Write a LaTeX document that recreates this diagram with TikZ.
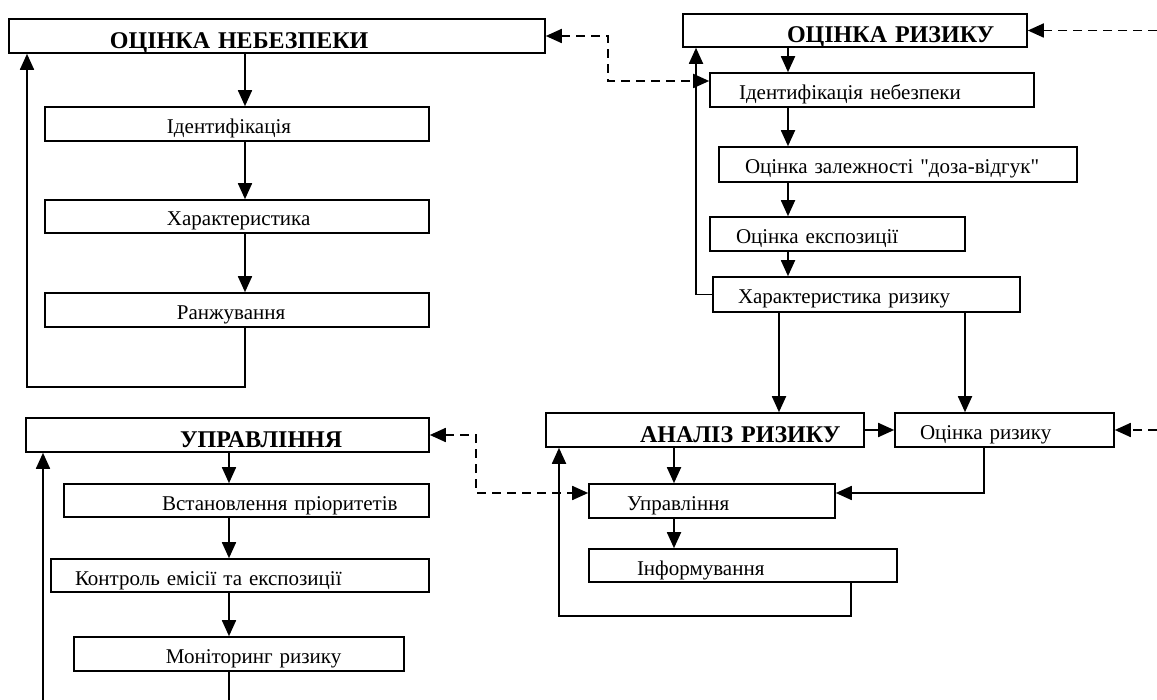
\documentclass[tikz,border=0pt]{standalone}
\usepackage{fontspec}
\setmainfont{Liberation Serif}
\usetikzlibrary{arrows.meta}
\begin{document}
\begin{tikzpicture}[x=1pt,y=1pt,
  box/.style={draw, line width=1.6pt, inner sep=0pt, align=left, text height=20pt, text depth=1pt, font=\fontsize{21}{24}\selectfont},
  head/.style={box, text height=26pt, text depth=1pt, font=\fontsize{24}{28}\selectfont\bfseries},
  tip/.tip={Triangle[length=16pt,width=14pt]},
  arr/.style={line width=1.8pt, -tip},
  plain/.style={line width=1.8pt},
  darr/.style={line width=1.8pt, dash pattern=on 9pt off 6pt, tip-tip},
  sdarr/.style={line width=1.8pt, dash pattern=on 9pt off 6pt, -tip}]
\useasboundingbox (0,0) rectangle (1157,-700);

% left upper column
\node[head, text width=536pt, minimum height=34pt] (B1) at (277,-36) {\hspace*{101pt}ОЦІНКА НЕБЕЗПЕКИ};
\node[box, text width=384pt, minimum height=34pt] (B2) at (237,-124) {\hspace*{122pt}Ідентифікація};
\node[box, text width=384pt, minimum height=33pt] (B3) at (237,-216.5) {\hspace*{122pt}Характеристика};
\node[box, text width=384pt, minimum height=34pt] (B4) at (237,-310) {\hspace*{132pt}Ранжування};

% left lower column
\node[head, text width=403pt, minimum height=34pt] (B5) at (227.5,-435) {\hspace*{154pt}УПРАВЛІННЯ};
\node[box, text width=365pt, minimum height=33pt] (B6) at (246.5,-500.5) {\hspace*{98pt}Встановлення пріоритетів};
\node[box, text width=378pt, minimum height=33pt] (B7) at (240,-575.5) {\hspace*{24pt}Контроль емісії та експозиції};
\node[box, text width=330pt, minimum height=34pt] (B8) at (239,-654) {\hspace*{92pt}Моніторинг ризику};

% right upper column
\node[head, text width=344pt, minimum height=33pt] (R1) at (855,-30.5) {\hspace*{104pt}ОЦІНКА РИЗИКУ};
\node[box, text width=324pt, minimum height=34pt] (R2) at (872,-90) {\hspace*{29pt}Ідентифікація небезпеки};
\node[box, text width=358pt, minimum height=35pt] (R3) at (898,-164.5) {\hspace*{26pt}Оцінка залежності \textquotedbl доза-відгук\textquotedbl};
\node[box, text width=255pt, minimum height=34pt] (R4) at (837.5,-234) {\hspace*{26pt}Оцінка експозиції};
\node[box, text width=307pt, minimum height=35pt] (R5) at (866.5,-294.5) {\hspace*{25pt}Характеристика ризику};

% right lower column
\node[head, text width=318pt, minimum height=34pt] (A1) at (705,-430) {\hspace*{94pt}АНАЛІЗ РИЗИКУ};
\node[box, text width=219pt, minimum height=34pt] (A2) at (1004.5,-430) {\hspace*{25pt}Оцінка ризику};
\node[box, text width=246pt, minimum height=34pt] (A3) at (712,-501) {\hspace*{38pt}Управління};
\node[box, text width=308pt, minimum height=33pt] (A4) at (743,-565.5) {\hspace*{48pt}Інформування};

% helper coordinates
\coordinate (xL) at (245,0);
\coordinate (xLl) at (27,0);
\coordinate (yLb) at (0,-387);
\coordinate (xM) at (229,0);
\coordinate (bM) at (229,-700);
\coordinate (bMl) at (43,-700);
\coordinate (xR) at (788,0);
\coordinate (xRl) at (696,0);
\coordinate (xA) at (779,0);
\coordinate (xB) at (965,0);
\coordinate (xC) at (674,0);
\coordinate (yD) at (984,-493);
\coordinate (lp) at (851,-616);
\coordinate (lpx) at (559,0);
\coordinate (d1) at (608,-81);
\coordinate (d2) at (476,-493);
\coordinate (e1) at (1157,-30.5);
\coordinate (e2) at (1157,-430);

% left upper connectors
\draw[arr] (B1.south -| xL) -- (B2.north -| xL);
\draw[arr] (B2.south -| xL) -- (B3.north -| xL);
\draw[arr] (B3.south -| xL) -- (B4.north -| xL);
\draw[arr] (B4.south -| xL) |- (yLb -| xLl) -- (B1.south -| xLl);

% left lower connectors
\draw[arr] (B5.south -| xM) -- (B6.north -| xM);
\draw[arr] (B6.south -| xM) -- (B7.north -| xM);
\draw[arr] (B7.south -| xM) -- (B8.north -| xM);
\draw[plain] (B8.south -| xM) -- (bM);
\draw[arr] (bMl) -- (B5.south -| bMl);

% right upper connectors
\draw[arr] (R1.south -| xR) -- (R2.north -| xR);
\draw[arr] (R2.south -| xR) -- (R3.north -| xR);
\draw[arr] (R3.south -| xR) -- (R4.north -| xR);
\draw[arr] (R4.south -| xR) -- (R5.north -| xR);
\draw[arr] (R5.west) -| (R1.south -| xRl);
\draw[arr] (R5.south -| xA) -- (A1.north -| xA);
\draw[arr] (R5.south -| xB) -- (A2.north -| xB);

% right lower connectors
\draw[arr] (A1.east) -- (A2.west);
\draw[arr] (A1.south -| xC) -- (A3.north -| xC);
\draw[arr] (A3.south -| xC) -- (A4.north -| xC);
\draw[arr] (A2.south -| yD) |- (A3.east |- yD);
\draw[arr] (A4.south -| lp) |- (lp -| lpx) -- (A1.south -| lpx);

% dashed connectors
\draw[darr] (B1.east) -| (d1) -- (R2.west |- d1);
\draw[darr] (B5.east) -| (d2) -- (A3.west |- d2);
\draw[sdarr] (e1) -- (R1.east);
\draw[sdarr] (e2) -- (A2.east);
\end{tikzpicture}
\end{document}
